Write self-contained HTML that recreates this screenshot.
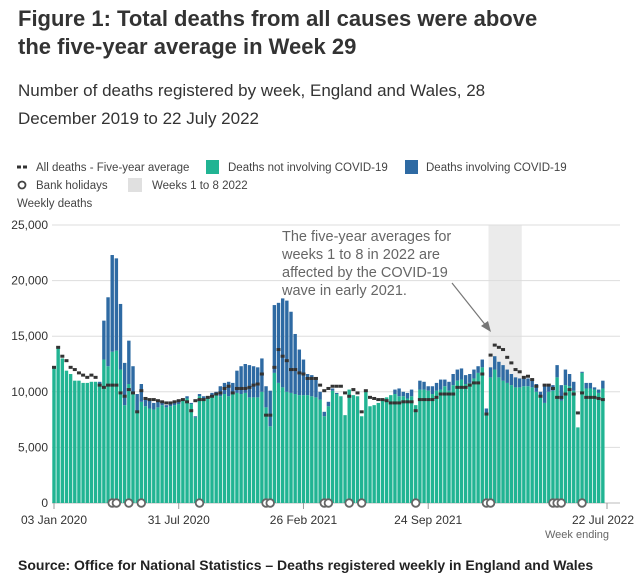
<!DOCTYPE html>
<html><head><meta charset="utf-8"><style>
body{margin:0;background:#fff;font-family:"Liberation Sans",sans-serif;}
#wrap{position:relative;width:639px;height:582px;overflow:hidden;}
.t{position:absolute;left:18px;white-space:nowrap;color:#222;}
</style></head><body>
<div id="wrap">
<div class="t" style="top:5px;font-size:22px;font-weight:bold;line-height:28px;color:#333;">Figure 1: Total deaths from all causes were above<br>the five-year average in Week 29</div>
<div class="t" style="top:77px;font-size:17px;line-height:28px;color:#333;">Number of deaths registered by week, England and Wales, 28<br>December 2019 to 22 July 2022</div>
<div class="t" style="top:557px;font-size:14px;font-weight:bold;color:#222;">Source: Office for National Statistics – Deaths registered weekly in England and Wales</div>
<svg id="svg" width="639" height="582" style="position:absolute;left:0;top:0"></svg>
</div>
<script>
const totals=[12.2,14.0,13.0,11.9,11.6,11.0,11.0,10.8,10.8,10.9,10.9,10.9,16.4,18.5,22.3,22.0,17.9,12.6,14.6,12.3,9.8,10.7,9.4,9.3,9.0,9.1,9.1,8.8,8.9,9.0,9.1,9.4,9.6,9.0,7.8,9.8,9.6,9.6,9.9,10.0,10.5,10.8,10.9,
10.8,11.9,12.3,12.5,12.4,12.3,12.2,13.0,10.5,10.1,17.8,18.0,18.4,18.2,17.2,15.2,13.8,12.9,11.6,11.5,11.1,10.0,8.2,9.1,10.3,9.9,9.6,7.9,10.2,9.7,9.6,7.8,10.2,8.7,8.8,9.0,9.4,9.5,9.7,10.2,10.3,10.0,9.9,10.2,8.8,
11.0,10.9,10.5,10.5,10.8,11.1,11.1,10.9,11.6,12.0,12.1,11.5,11.6,12.0,12.3,12.9,8.5,12.2,13.2,12.7,12.4,12.0,11.6,11.3,11.2,11.4,11.2,11.1,10.7,10.0,10.6,10.7,10.6,12.4,10.6,12.0,11.6,10.9,6.8,11.8,10.8,10.8,10.4,10.2,11.0];
const nonCovid=[12.2,14.0,13.0,11.9,11.6,11.0,11.0,10.8,10.8,10.9,10.9,10.7,12.9,12.3,13.6,13.7,12.0,8.8,10.7,9.8,8.2,9.1,8.7,8.5,8.4,8.6,8.8,8.6,8.7,8.8,8.9,9.2,9.4,8.9,7.7,9.6,9.4,9.4,9.6,9.7,9.6,9.8,9.6,
9.9,9.9,9.8,9.9,9.5,9.5,9.5,10.0,8.6,6.9,11.7,10.8,10.4,10.0,9.9,9.8,9.7,9.7,9.7,9.6,9.5,9.3,7.8,8.7,10.1,9.8,9.6,7.9,10.2,9.7,9.6,7.8,10.2,8.7,8.8,9.0,9.4,9.5,9.7,9.8,9.6,9.6,9.4,9.6,8.8,
10.2,10.2,10.1,9.8,10.1,10.2,10.5,10.1,10.6,11.0,11.1,10.7,10.8,11.2,11.7,12.2,7.9,11.3,12.0,11.3,11.0,10.8,10.6,10.4,10.4,10.5,10.5,10.4,10.0,9.6,9.0,10.0,10.1,11.3,9.2,10.6,10.5,10.1,6.8,11.7,10.3,10.3,10.2,9.9,10.3];
const average=[12.2,14.0,13.2,12.8,12.2,12.0,11.7,11.5,11.3,11.5,11.3,10.6,10.4,10.6,10.6,10.6,9.9,9.6,10.2,9.9,8.2,10.1,9.4,9.3,9.3,9.2,9.1,9.0,9.0,9.1,9.2,9.3,9.1,8.3,9.2,9.3,9.3,9.5,9.6,9.8,9.9,10.3,10.5,
9.9,10.3,10.3,10.3,10.4,10.6,10.7,11.6,7.9,7.9,12.2,13.8,13.2,12.8,12.0,12.0,11.7,11.6,11.2,11.2,11.2,10.6,10.1,10.3,10.5,10.5,10.5,9.9,9.6,10.2,9.9,8.2,10.1,9.5,9.4,9.3,9.3,9.2,9.0,9.0,9.0,9.1,9.1,9.1,8.3,
9.3,9.3,9.3,9.3,9.5,9.8,9.8,9.8,9.8,10.4,10.4,10.4,10.6,10.8,10.8,11.6,8.0,13.3,14.2,14.0,13.8,13.1,12.6,12.0,11.8,11.3,11.4,11.1,10.5,9.6,10.6,10.6,10.3,9.5,9.5,9.8,10.2,9.8,8.1,9.9,9.5,9.5,9.5,9.4,9.3];
const valueUnit=1000;
const bankHolidayWeeks=[15,16,19,22,36,52,53,66,67,72,75,88,105,106,121,122,123,128];
const shadedWeeks=[106,113];
const yTicks=[0,5000,10000,15000,20000,25000];
const xTickWeeks=[1,31,61,91,134];
const xTickLabels=["03 Jan 2020","31 Jul 2020","26 Feb 2021","24 Sep 2021","22 Jul 2022"];

const NS="http://www.w3.org/2000/svg",svg=document.getElementById('svg');
const X0=54,DX=(607-54)/133,Y0=503,YS=278/25000;
const x=w=>X0+(w-1)*DX, y=v=>Y0-v*YS;
function el(t,a,p){const e=document.createElementNS(NS,t);for(const k in a)e.setAttribute(k,a[k]);(p||svg).appendChild(e);return e;}
const lg=el('g',{});


el('line',{x1:17,y1:167,x2:28,y2:167,stroke:'#333','stroke-width':3,'stroke-dasharray':'4,2'},lg);
el('rect',{x:206,y:160,width:13,height:14,fill:'#21b493'},lg);
el('rect',{x:405,y:160,width:13,height:14,fill:'#2e6aa3'},lg);
el('circle',{cx:22,cy:185,r:3.5,fill:'#fff',stroke:'#444','stroke-width':1.8},lg);
el('rect',{x:128,y:178,width:14,height:14,fill:'#e0e0e0'},lg);
[["All deaths - Five-year average",36,171],["Deaths not involving COVID-19",228,171],["Deaths involving COVID-19",426,171],["Bank holidays",36,189],["Weeks 1 to 8 2022",152,189],["Weekly deaths",17,207]].forEach(d=>{const t=el('text',{x:d[1],y:d[2],'font-size':11.5,fill:'#444'},lg);t.textContent=d[0];});
const sh=el('rect',{x:x(shadedWeeks[0])-DX/2,y:y(25000),width:(shadedWeeks[1]-shadedWeeks[0]+1)*DX,height:Y0-y(25000),fill:'#ebebeb'});


yTicks.forEach(v=>{
 el('line',{x1:52,x2:620,y1:y(v),y2:y(v),stroke:v?'#ddd':'#bbb','stroke-width':1});
 const t=el('text',{x:48,y:y(v)+4,'text-anchor':'end','font-size':12,fill:'#333'});t.textContent=v.toLocaleString('en-GB');
 
 
});
const bw=DX*0.82;
totals.forEach((tk,i)=>{
 const w=i+1,tv=tk*valueUnit,nc=nonCovid[i]*valueUnit;
 const r1=el('rect',{x:x(w)-bw/2,y:y(nc),width:bw,height:Y0-y(nc),fill:'#21b493'});
 
 
 if(tv>nc){const r2=el('rect',{x:x(w)-bw/2,y:y(tv),width:bw,height:y(nc)-y(tv),fill:'#2e6aa3'});
 
 }
});
average.forEach((a,i)=>{
 const d=el('rect',{x:x(i+1)-2,y:y(a*valueUnit)-1.5,width:4,height:3,fill:'#333'});
 
 
});
bankHolidayWeeks.forEach(w=>{
 const c=el('circle',{cx:x(w),cy:503,r:3.8,fill:'#fff',stroke:'#666','stroke-width':1.8});
 
 
});
xTickWeeks.forEach((w,i)=>{
 el('line',{x1:x(w),x2:x(w),y1:503,y2:509,stroke:'#999'});
 const t=el('text',{x:x(w)+(i==4?-4:0),y:524,'text-anchor':'middle','font-size':12,fill:'#333'});t.textContent=xTickLabels[i];
 
 
});
const we=el('text',{x:609,y:538,'text-anchor':'end','font-size':11,fill:'#666'});we.textContent='Week ending';


const an=el('g',{});


["The five-year averages for","weeks 1 to 8 in 2022 are","affected by the COVID-19","wave in early 2021."].forEach((s,i)=>{const t=el('text',{x:282,y:241+i*18,'font-size':14.5,fill:'#666'},an);t.textContent=s;});
el('line',{x1:452,y1:283,x2:487,y2:327,stroke:'#777','stroke-width':1.2},an);
el('polygon',{points:'491,332 481,326 488,321',fill:'#777'},an);
</script>
</body></html>
